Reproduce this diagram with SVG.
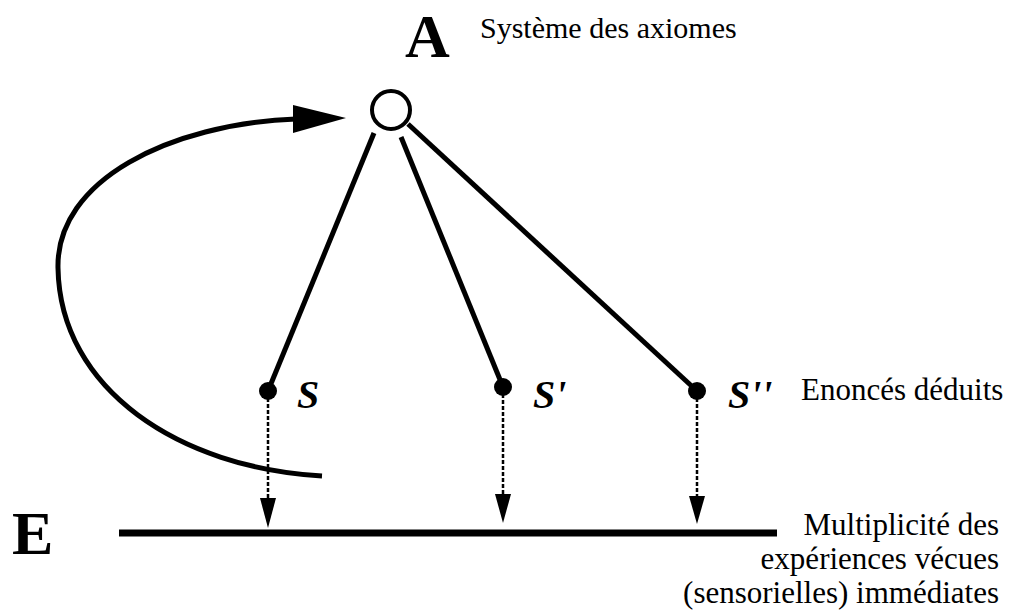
<svg xmlns="http://www.w3.org/2000/svg" width="1010" height="612" viewBox="0 0 1010 612">
<style>
.big{font-weight:bold;font-size:62px}
.lab{font-style:italic;font-weight:bold;font-size:40px}
.txt{font-size:31px}
.edge{stroke:#000;stroke-width:5;fill:none;stroke-linecap:butt}
.dash{stroke:#000;stroke-width:2.5;stroke-dasharray:4 2;fill:none}
.dot{fill:#000}
</style>
<rect width="1010" height="612" fill="#fff"/>
<g id="connectors">
  <line class="edge" x1="374" y1="133" x2="268" y2="391"/>
  <line class="edge" x1="401" y1="137" x2="503" y2="387"/>
  <line class="edge" x1="408" y1="124" x2="697" y2="391"/>
  <path class="edge" stroke-width="4" d="M322,476 C180,468 60,390 58,268 C56,180 170,124 296,119"/>
  <polygon points="346,118 293,105 293,133" fill="#000"/>
  <line class="dash" x1="268" y1="398" x2="268" y2="500"/>
  <polygon points="260,498 276,498 268,528" fill="#000"/>
  <line class="dash" x1="503" y1="394" x2="503" y2="496"/>
  <polygon points="495,494 511,494 503,523" fill="#000"/>
  <line class="dash" x1="697" y1="398" x2="697" y2="498"/>
  <polygon points="689,496 705,496 697,524" fill="#000"/>
</g>
<g font-family="Liberation Serif, Times New Roman, serif" fill="#000">
<g id="nodeA">
  <circle cx="391" cy="110" r="19" fill="#fff" stroke="#000" stroke-width="4"/>
  <text class="big" x="405" y="57">A</text>
  <text font-size="30" x="480" y="38">Système des axiomes</text>
</g>
<g id="nodeS">
  <circle class="dot" cx="268" cy="391" r="9"/>
  <text class="lab" x="297" y="408">S</text>
</g>
<g id="nodeS1">
  <circle class="dot" cx="503" cy="387" r="9"/>
  <text class="lab" x="533" y="408">S'</text>
</g>
<g id="nodeS2">
  <circle class="dot" cx="697" cy="391" r="9"/>
  <text class="lab" x="728" y="408">S''</text>
  <text class="txt" x="801" y="400">Enoncés déduits</text>
</g>
<g id="nodeE">
  <line x1="119" y1="533" x2="777" y2="533" stroke="#000" stroke-width="7"/>
  <text class="big" x="12" y="554">E</text>
  <text class="txt" text-anchor="end" x="999" y="535">Multiplicité des</text>
  <text class="txt" text-anchor="end" x="999" y="569">expériences vécues</text>
  <text class="txt" text-anchor="end" x="999" y="603">(sensorielles) immédiates</text>
</g>
</g>
</svg>
